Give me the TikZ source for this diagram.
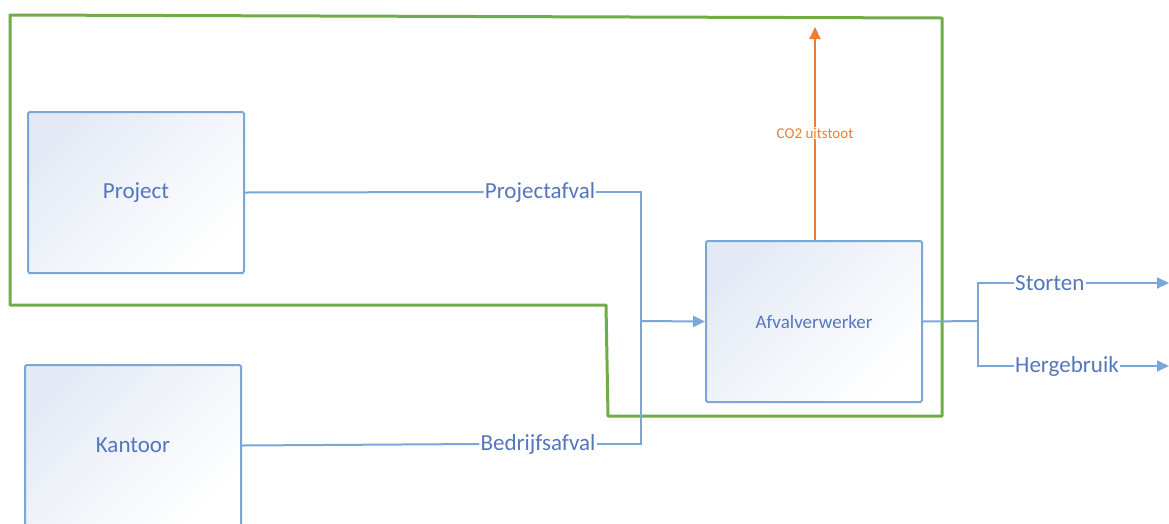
\documentclass[tikz,border=0pt]{standalone}
\usepackage{fontspec}
\setmainfont{Carlito}
\usetikzlibrary{arrows.meta}
\definecolor{flowblue}{RGB}{122,167,216}
\definecolor{textblue}{RGB}{84,118,190}
\definecolor{boxtint}{RGB}{228,234,245}
\definecolor{bordergreen}{RGB}{112,173,71}
\definecolor{co2orange}{RGB}{237,125,49}
\tikzset{
  procbox/.style={draw=flowblue,line width=2pt,rounded corners=1.5pt,
    top color=boxtint,bottom color=white,shading angle=45,
    minimum width=216pt,minimum height=161pt,text=textblue,
    font=\fontsize{23}{26}\selectfont},
  flowlabel/.style={inner sep=1pt,text=textblue,font=\fontsize{23}{26}\selectfont},
  flow/.style={draw=flowblue,line width=2pt},
  flowarrow/.style={flow,-{Triangle[width=11pt,length=12pt]}}
}
\begin{document}
\begin{tikzpicture}[x=1pt,y=-1pt]
  \clip (0,0) rectangle (1169,523);
  \fill[white] (0,0) rectangle (1169,523);
  % system boundary
  \draw[bordergreen,line width=3pt,line join=round]
    (10,15) -- (942,18) -- (942,416) -- (608,416) -- (606,305) -- (10,305) -- cycle;
  % sources and processor
  \node[procbox] (project) at (136,192.5) {Project};
  \node[procbox] (kantoor) at (133,445.5) {Kantoor};
  \node[procbox,font=\fontsize{19}{22}\selectfont] (afval) at (814,321.5) {Afvalverwerker};
  % labels on the flows
  \node[flowlabel] (pa) at (540,192) {Projectafval};
  \node[flowlabel] (bf) at (538,444) {Bedrijfsafval};
  \node[flowlabel,text=co2orange,font=\fontsize{15}{17}\selectfont] (co) at (815,133) {CO2 uitstoot};
  \node[flowlabel,anchor=west] (st) at (1014,283) {Storten};
  \node[flowlabel,anchor=west] (hg) at (1014,366) {Hergebruik};
  \coordinate (join) at (641,321);
  \coordinate (split) at (978,321);
  \coordinate (co2top) at (815,27);
  \coordinate (stend) at (1169,283);
  \coordinate (hgend) at (1169,366);
  % flows
  \draw[flow] (project.east) -- (pa.west);
  \draw[flow] (pa.east) -| (join);
  \draw[flow] (kantoor.east) -- (bf.west);
  \draw[flow] (bf.east) -| (join);
  \draw[flowarrow] (join) -- (afval.west);
  \draw[flow] (afval.east) -- (split);
  \draw[flow] (split) |- (st.west);
  \draw[flow] (split) |- (hg.west);
  \draw[flowarrow] (st.east) -- (stend);
  \draw[flowarrow] (hg.east) -- (hgend);
  \draw[co2orange,line width=2pt] (afval.north -| co) -- (co.south);
  \draw[co2orange,line width=2pt,-{Triangle[width=11pt,length=12pt]}] (co.north) -- (co2top);
\end{tikzpicture}
\end{document}
